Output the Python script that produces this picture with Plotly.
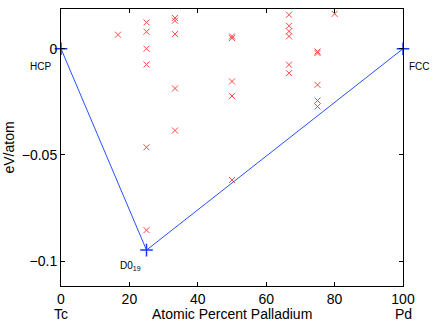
import plotly.graph_objects as go

# Candidate structures (Atomic % Pd, formation energy eV/atom)
cand_x = [16.67, 25, 25, 25, 25, 25, 25,
          33.33, 33.33, 33.33, 33.33, 33.33,
          50, 50, 50, 50, 50,
          66.67, 66.67, 66.67, 66.67, 66.67, 66.67,
          75, 75, 75, 75, 75, 80]
cand_y = [0.0066, 0.0124, 0.0080, 0.0000, -0.0074, -0.0464, -0.0854,
          0.0145, 0.0132, 0.0069, -0.0187, -0.0385,
          0.0058, 0.0050, -0.0154, -0.0223, -0.0618,
          0.0160, 0.0108, 0.0082, 0.0058, -0.0075, -0.0115,
          -0.0013, -0.0020, -0.0170, -0.0244, -0.0272, 0.0164]

# Convex hull
hull_x = [0, 25, 100]
hull_y = [0.0, -0.0948, 0.0]
hull_labels = ["HCP", "D0<sub>19</sub>", "FCC"]

x_ticks = [0, 20, 40, 60, 80, 100]
y_ticks = [-0.1, -0.05, 0]
y_ticktext = ["\u22120.1", "\u22120.05", "0"]

font = "Liberation Sans, Arial, Helvetica, sans-serif"

fig = go.Figure()
fig.add_trace(go.Scatter(
    x=cand_x, y=cand_y, mode="markers",
    marker=dict(symbol="x-thin", size=6, line=dict(color="rgb(255,70,70)", width=1)),
    showlegend=False, hoverinfo="skip"))
fig.add_trace(go.Scatter(
    x=hull_x, y=hull_y, mode="lines+markers",
    line=dict(color="rgb(40,80,255)", width=1),
    marker=dict(symbol="cross-thin", size=9, line=dict(color="rgb(20,60,255)", width=1.5)),
    showlegend=False, hoverinfo="skip", cliponaxis=False))

shifts = [(-21, -18), (-16, -16), (16, -18)]
for hx, hy, lab, (dx, dy) in zip(hull_x, hull_y, hull_labels, shifts):
    fig.add_annotation(x=hx, y=hy, text=lab, showarrow=False, xshift=dx, yshift=dy,
                       font=dict(family=font, size=10, color="black"))

for xv, lab in [(0, "Tc"), (100, "Pd")]:
    fig.add_annotation(x=xv, y=0, xref="x", yref="paper", text=lab, showarrow=False,
                       yanchor="middle", yshift=-28,
                       font=dict(family=font, size=14, color="black"))
fig.add_annotation(x=0.5, y=0, xref="paper", yref="paper", text="Atomic Percent Palladium",
                   showarrow=False, yanchor="middle", yshift=-28,
                   font=dict(family=font, size=14, color="black"))
fig.add_annotation(x=0, y=0.5, xref="paper", yref="paper", text="eV/atom",
                   showarrow=False, textangle=-90, xanchor="center", xshift=-53,
                   font=dict(family=font, size=14, color="black"))

fig.update_layout(
    width=436, height=324,
    margin=dict(l=61, r=33, t=9, b=38),
    plot_bgcolor="white", paper_bgcolor="white",
    font=dict(family=font, size=14, color="black"),
    hovermode=False,
    xaxis=dict(range=[0, 100], tickvals=x_ticks, ticks="inside", ticklen=4,
               showline=True, mirror="ticks", linecolor="black", linewidth=1,
               tickcolor="black", showgrid=False, zeroline=False, automargin=False),
    yaxis=dict(range=[-0.1117, 0.0187], tickvals=y_ticks, ticktext=y_ticktext,
               ticks="inside", ticklen=4,
               showline=True, mirror="ticks", linecolor="black", linewidth=1,
               tickcolor="black", showgrid=False, zeroline=False, automargin=False),
)

fig.write_html("out.html", config={"displayModeBar": False},
               post_script="document.body.style.margin='0';document.body.style.padding='0';")
